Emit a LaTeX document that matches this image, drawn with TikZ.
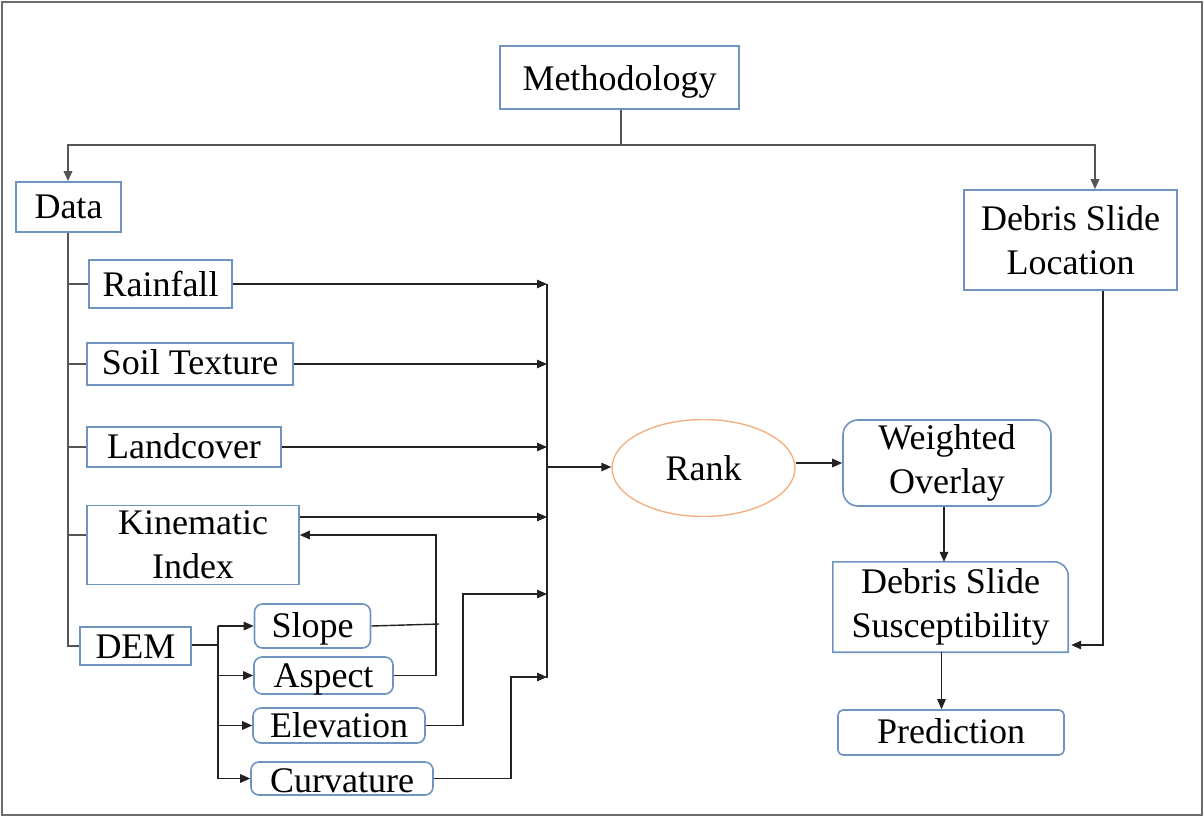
\documentclass[tikz,border=0pt]{standalone}
\usepackage{fontspec}
\setmainfont{Liberation Serif}
\usetikzlibrary{arrows.meta,shapes.geometric}
\definecolor{boxc}{HTML}{6F94C0}
\definecolor{rankc}{HTML}{F4B183}
\definecolor{linec}{HTML}{222222}
\definecolor{treec}{HTML}{555555}
\tikzset{
  x=1pt, y=-1pt,
  lbl/.style={font=\fontsize{36}{44}\selectfont, inner sep=0pt, align=center},
  sbox/.style={lbl, draw=boxc, line width=1.6pt, rectangle},
  rbox/.style={sbox, rounded corners=8pt},
  conn/.style={draw=linec, line width=1.4pt},
  tconn/.style={draw=treec, line width=1.8pt},
  arr/.style={-{Triangle[length=10pt,width=8.5pt]}},
}
\begin{document}
\begin{tikzpicture}
\useasboundingbox (0,0) rectangle (1204,817);
\draw[draw=gray!85!black, line width=2pt] (2,2) rectangle (1202,815);

% nodes
\node[sbox, minimum width=239pt, text height=44pt, text depth=19pt] (meth) at (619.5,77.5) {Methodology};
\node[sbox, minimum width=105pt, text height=36pt, text depth=14pt] (data) at (68.5,207) {Data};
\node[sbox, minimum width=213pt, minimum height=100pt] (loc) at (1070.5,240) {Debris Slide\\Location};
\node[sbox, minimum width=143pt, text height=36pt, text depth=12pt] (rain) at (160.5,284) {Rainfall};
\node[sbox, minimum width=206pt, text height=31pt, text depth=11pt] (soil) at (190,364) {Soil Texture};
\node[sbox, minimum width=194pt, text height=31pt, text depth=9pt] (land) at (184,447) {Landcover};
\node[sbox, minimum width=212pt, minimum height=79pt] (kin) at (193,545) {Kinematic\\Index};
\node[sbox, minimum width=111pt, text height=31pt, text depth=7pt] (dem) at (135.5,646) {DEM};
\node[rbox, minimum width=116pt, text height=33pt, text depth=11pt] (slope) at (312.5,626) {Slope};
\node[rbox, minimum width=139pt, text height=30pt, text depth=7pt] (aspect) at (323.5,675.5) {Aspect};
\node[rbox, minimum width=172pt, text height=29pt, text depth=6pt] (elev) at (339,725.5) {Elevation};
\node[rbox, minimum width=182pt, text height=30pt, text depth=3pt] (curv) at (342,778.5) {Curvature};
\node[lbl, ellipse, draw=rankc, line width=1.4pt, minimum width=183pt, minimum height=97pt] (rank) at (703.5,468) {Rank};
\node[sbox, rounded corners=15pt, minimum width=208pt, minimum height=86pt] (wo) at (947,463) {Weighted\\Overlay};
\node[lbl, minimum width=235pt, minimum height=90pt] (sus) at (950.5,607) {Debris Slide\\Susceptibility};
\draw[draw=boxc, line width=1.6pt] (sus.north west) -- (sus.south west) -- (sus.south east)
  [rounded corners=14pt] -- (sus.north east) [sharp corners] -- cycle;
\node[sbox, rounded corners=5pt, minimum width=226pt, text height=33pt, text depth=12pt] (pred) at (951,732.5) {Prediction};

% helper coordinates
\coordinate (kb) at ([yshift=10pt]kin.west);
\coordinate (kt) at ([yshift=28pt]kin.east);
\coordinate (tj) at (621,145);
\coordinate (dx) at (68,0);
\coordinate (bus) at (547,0);
\coordinate (bj) at (547,467);
\coordinate (dj) at (218,645);
\coordinate (sa) at (436,535);
\coordinate (se) at (439,624);
\coordinate (ev) at (463,594);
\coordinate (cv) at (511,677);
\coordinate (lr) at (1103,645);
\coordinate (dtop) at ([xshift=-0.5pt]data.north);
\coordinate (ltop) at ([xshift=24.5pt]loc.north);
\coordinate (wob) at ([xshift=-3pt]wo.south);
\coordinate (sub) at ([xshift=-9pt]sus.south);
\coordinate (sue) at ([xshift=3pt]sus.east);

% top tree
\draw[tconn] (meth.south -| tj) -- (tj);
\draw[tconn, arr] (tj) -| (dtop);
\draw[tconn, arr] (tj) -| (ltop);

% data tree
\draw[tconn] (dx |- data.south) |- (dem.west);
\draw[tconn] (dx |- rain.west) -- (rain.west);
\draw[tconn] (dx |- soil.west) -- (soil.west);
\draw[tconn] (dx |- land.west) -- (land.west);
\draw[tconn] (dx |- kb) -- (kb);

% collector bus
\draw[conn] (bus |- rain.east) -- (547,678);
\draw[conn, arr] (rain.east) -- (bus |- rain.east);
\draw[conn, arr] (soil.east) -- (bus |- soil.east);
\draw[conn, arr] (land.east) -- (bus |- land.east);
\draw[conn, arr] (kt) -- (bus |- kt);
\draw[conn, arr] (bj) -- (rank.west |- bj);

% DEM subtree
\draw[conn] (dem.east |- dj) -- (dj);
\draw[conn] (dj |- slope.west) -- (dj |- curv.west);
\draw[conn, arr] (dj |- slope.west) -- (slope.west);
\draw[conn, arr] (dj |- aspect.west) -- (aspect.west);
\draw[conn, arr] (dj |- elev.west) -- (elev.west);
\draw[conn, arr] (dj |- curv.west) -- (curv.west);

% slope / aspect to kinematic index
\draw[conn] (slope.east) -- (se);
\draw[conn, arr] (aspect.east) -| (sa) -- (kin.east |- sa);
% elevation, curvature to bus
\draw[conn, arr] (elev.east) -| (ev) -- (bus |- ev);
\draw[conn, arr] (curv.east) -| (cv) -- (bus |- cv);

% right side
\draw[conn, arr] (rank.east |- wo.west) -- (wo.west);
\draw[conn, arr] (wob) -- (wob |- sus.north);
\draw[conn, arr] (loc.south -| lr) -- (lr) -- (sue |- lr);
\draw[conn, arr] (sub) -- (sub |- pred.north);
\end{tikzpicture}
\end{document}
